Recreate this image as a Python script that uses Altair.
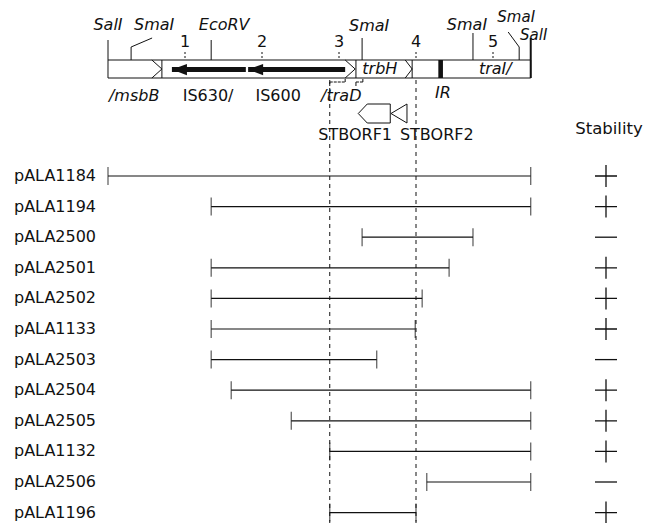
import altair as alt
import pandas as pd

# ---------------- data (kb along the map) ----------------
construct_names = ["pALA1184", "pALA1194", "pALA2500", "pALA2501", "pALA2502", "pALA1133",
                   "pALA2503", "pALA2504", "pALA2505", "pALA1132", "pALA2506", "pALA1196"]
construct_start = [0.00, 1.34, 3.30, 1.34, 1.34, 1.34, 1.34, 1.60, 2.38, 2.88, 4.14, 2.88]
construct_end = [5.49, 5.49, 4.74, 4.43, 4.08, 3.99, 3.49, 5.49, 5.49, 5.49, 5.49, 4.00]
stability = ["+", "+", "-", "+", "+", "+", "-", "+", "+", "+", "-", "+"]

map_start, map_end = 0.00, 5.49
scale_ticks = [1, 2, 3, 4, 5]

site_names = ["SalI", "SmaI", "EcoRV", "SmaI", "SmaI", "SmaI", "SalI"]
site_kb = [0.00, 0.30, 1.34, 3.30, 4.74, 5.34, 5.49]

segment_bounds = [0.70, 3.22, 3.95]
chevron_back = [0.57, 3.08, 3.86]
chevron_tip = [0.70, 3.21, 3.95]

is_tip = [0.83, 1.82]
is_tail = [1.79, 3.08]

ir_start, ir_end = 4.29, 4.35

below_labels = ["/msbB", "IS630/", "IS600", "/traD", "IR"]
below_label_kb = [0.34, 1.30, 2.21, 3.03, 4.35]
below_italic = [True, False, False, True, True]
inner_labels = ["trbH", "traI/"]
inner_label_kb = [3.53, 5.03]

stb_names = ["STBORF1", "STBORF2"]
stb_tip = [3.25, 3.675]
stb_label_kb = [3.21, 4.27]

boundary_kb = [2.88, 4.00]
bracket_start = [2.88, 3.22]
bracket_end = [3.08, 3.31]

# ---------------- styling / layout ----------------
FONT = "DejaVu Sans"
INK = "#111111"
W, H = 637, 515
ROW0, ROWSTEP = 168, 30.6
X = alt.Scale(domain=[-100 / 77, (W - 100) / 77], nice=False, zero=False)
YS = alt.Scale(domain=[-ROW0 / ROWSTEP, (H - ROW0) / ROWSTEP], reverse=True, nice=False, zero=False)


def xf(field):
    return alt.X(f"{field}:Q", scale=X, axis=None)


def yv(p):
    return alt.value(p - 8)


def one(**kw):
    return alt.Chart(pd.DataFrame([kw]))


layers = []

rows = pd.DataFrame({"name": construct_names, "start": construct_start, "end": construct_end,
                     "stab": stability, "row": list(range(len(construct_names)))})
Yrow = alt.Y("row:Q", scale=YS, axis=None)
rb = alt.Chart(rows)

# dashed boundaries
bd = alt.Chart(pd.DataFrame({"kb": boundary_kb}))
layers.append(bd.mark_rule(strokeDash=[4, 4], strokeWidth=1, color=INK).encode(
    x=xf("kb"), y=yv(80), y2=yv(540)))

# construct rows
layers.append(rb.mark_rule(strokeWidth=1.2, color=INK).encode(x=xf("start"), x2="end:Q", y=Yrow))
layers.append(rb.mark_tick(orient="vertical", size=18, thickness=1.2, color=INK).encode(x=xf("start"), y=Yrow))
layers.append(rb.mark_tick(orient="vertical", size=18, thickness=1.2, color=INK).encode(x=xf("end"), y=Yrow))
layers.append(rb.mark_text(align="left", baseline="middle", font=FONT, fontSize=16, color=INK).encode(
    x=alt.value(6), y=Yrow, text="name:N"))
PLUS = "M-1,0H1M0,-1V1"
MINUS = "M-1,0H1"
layers.append(rb.mark_point(filled=False, size=484, strokeWidth=1.3, color=INK, opacity=1).encode(
    x=alt.value(598), y=Yrow,
    shape=alt.Shape("stab:N", scale=alt.Scale(domain=["+", "-"], range=[PLUS, MINUS]), legend=None)))
layers.append(one(t="Stability").mark_text(font=FONT, fontSize=16.5, color=INK, baseline="middle").encode(
    x=alt.value(601), y=yv(129), text="t:N"))

# main map bar
layers.append(one(s=map_start, e=map_end).mark_rect(fill="white", stroke=INK, strokeWidth=1).encode(
    x=xf("s"), x2="e:Q", y=yv(60), y2=yv(78)))
sb = alt.Chart(pd.DataFrame({"kb": segment_bounds}))
layers.append(sb.mark_rule(strokeWidth=1, color=INK).encode(x=xf("kb"), y=yv(60), y2=yv(78)))
ch = alt.Chart(pd.DataFrame({"b": chevron_back, "t": chevron_tip}))
layers.append(ch.mark_rule(strokeWidth=1, color=INK).encode(x=xf("b"), x2="t:Q", y=yv(60), y2=yv(69)))
layers.append(ch.mark_rule(strokeWidth=1, color=INK).encode(x=xf("t"), x2="b:Q", y=yv(69), y2=yv(78)))

# IS element arrows (pointing left)
isd = alt.Chart(pd.DataFrame({"tip": is_tip, "tail": is_tail}))
layers.append(isd.mark_rule(strokeWidth=5, color=INK).encode(
    x=xf("tip"), x2="tail:Q", y=yv(69.5)))
ARROW = "M0,0L2,-0.75L2,0.75Z"
layers.append(isd.mark_point(shape=ARROW, filled=True, size=225, color=INK, opacity=1).encode(
    x=xf("tip"), y=yv(69.5)))

# IR block
layers.append(one(s=ir_start, e=ir_end).mark_rect(fill=INK).encode(x=xf("s"), x2="e:Q", y=yv(60), y2=yv(78)))

# scale ticks and numbers
tk = alt.Chart(pd.DataFrame({"kb": scale_ticks}))
layers.append(tk.mark_rule(strokeWidth=1, color=INK, strokeDash=[2, 2]).encode(x=xf("kb"), y=yv(52), y2=yv(60)))
layers.append(tk.mark_text(font=FONT, fontSize=16, color=INK, baseline="middle").encode(
    x=xf("kb"), y=yv(42), text="kb:N"))

# restriction sites: (line top, line bottom, width, diag dx, diag top, label dx, label y, font size)
site_style = [
    (40, 60, 1, None, None, 0, 25, 16),
    (47, 60, 1, 21, 38, 23, 25, 16),
    (40, 60, 1, None, None, 13, 25, 16),
    (38, 60, 1, None, None, 7, 26, 16),
    (33, 60, 1, None, None, -6, 25, 16),
    (47, 60, 1, -11, 32, -3, 16.5, 15),
    (38, 78, 2, None, None, 3, 35, 15),
]
for name, kb, (top, bot, sw, ddx, dtop, ldx, ly, fs) in zip(site_names, site_kb, site_style):
    c = one(kb=kb, name=name)
    layers.append(c.mark_rule(strokeWidth=sw, color=INK).encode(x=xf("kb"), y=yv(top), y2=yv(bot)))
    if ddx is not None:
        layers.append(c.mark_rule(strokeWidth=1, color=INK, x2Offset=ddx).encode(
            x=xf("kb"), x2="kb:Q", y=yv(top), y2=yv(dtop)))
    layers.append(c.mark_text(font=FONT, fontSize=fs, fontStyle="italic", color=INK, dx=ldx,
                              baseline="middle").encode(x=xf("kb"), y=yv(ly), text="name:N"))

# gene labels
for lab, kb, it in zip(below_labels, below_label_kb, below_italic):
    c = one(kb=kb, name=lab)
    layers.append(c.mark_text(font=FONT, fontSize=16, fontStyle="italic" if it else "normal",
                              color=INK, baseline="middle").encode(
        x=xf("kb"), y=yv(93 if lab == "IR" else 96), text="name:N"))
inl = alt.Chart(pd.DataFrame({"kb": inner_label_kb, "name": inner_labels}))
layers.append(inl.mark_text(font=FONT, fontSize=16, fontStyle="italic", color=INK, baseline="middle").encode(
    x=xf("kb"), y=yv(69), text="name:N"))

# traD brackets
br = alt.Chart(pd.DataFrame({"s": bracket_start, "e": bracket_end}))
layers.append(br.mark_rule(strokeWidth=1, color=INK, strokeDash=[3, 1]).encode(
    x=xf("s"), x2="e:Q", y=yv(82)))
layers.append(br.mark_rule(strokeWidth=1, color=INK).encode(x=xf("e"), y=yv(79), y2=yv(82)))
layers.append(br.mark_rule(strokeWidth=1, color=INK).encode(x=xf("s"), y=yv(82), y2=yv(86)))

# STBORF shapes
PENT = "M0,0L0.9,-0.95L3.2,-0.95L3.2,0.95L0.9,0.95Z"
TRI = "M0,0L1.6,-0.95L1.6,0.95Z"
layers.append(one(kb=stb_tip[0]).mark_point(shape=PENT, filled=True, fill="white", stroke=INK,
                                             strokeWidth=1, size=400, opacity=1).encode(
    x=xf("kb"), y=yv(113.5)))
layers.append(one(kb=stb_tip[1]).mark_point(shape=TRI, filled=True, fill="white", stroke=INK,
                                             strokeWidth=1, size=400, opacity=1).encode(
    x=xf("kb"), y=yv(113.5)))
stl = alt.Chart(pd.DataFrame({"kb": stb_label_kb, "name": stb_names}))
layers.append(stl.mark_text(font=FONT, fontSize=16, color=INK, baseline="middle").encode(
    x=xf("kb"), y=yv(135), text="name:N"))

chart = alt.layer(*layers).properties(
    width=W, height=H, padding=0, autosize=alt.AutoSizeParams(type="none")
).configure_view(stroke=None)

chart.save("out.html", embed_options={"renderer": "svg", "actions": False})
